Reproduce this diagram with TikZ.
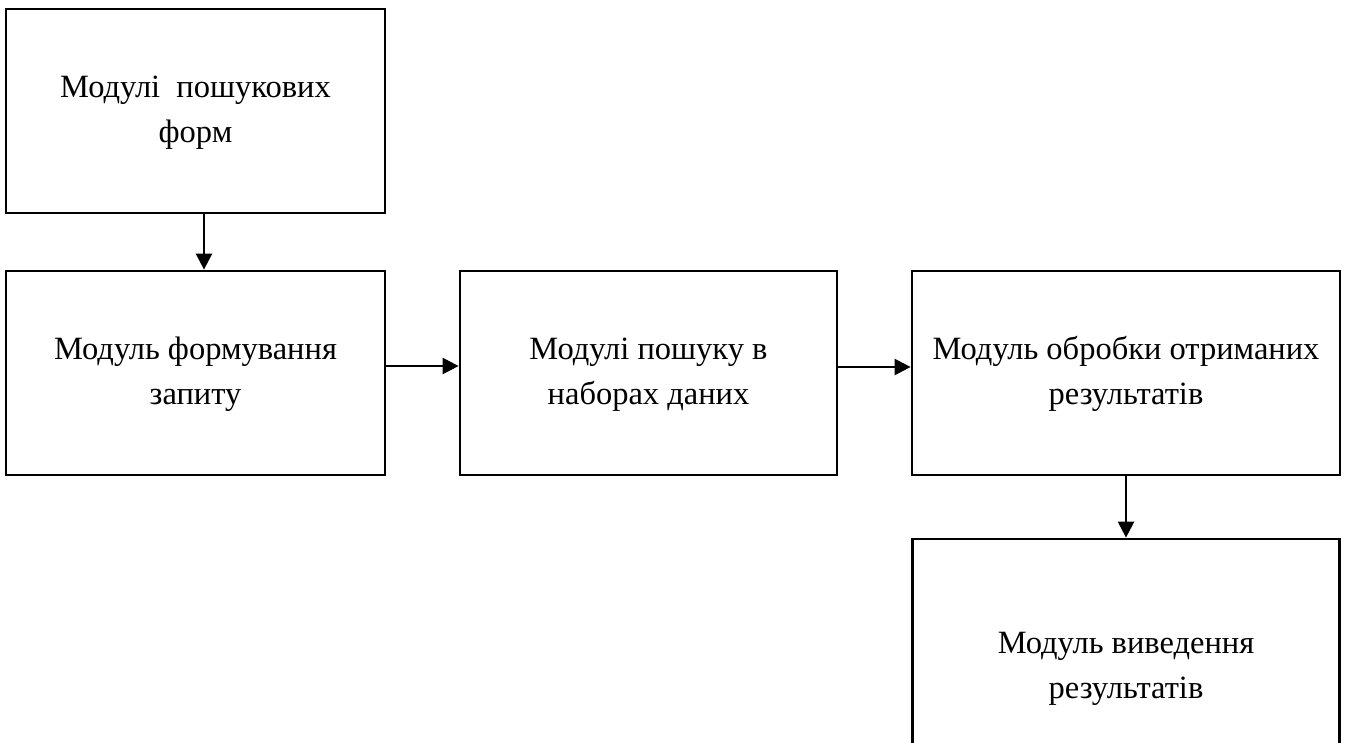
\documentclass[tikz,border=0pt]{standalone}
\usepackage{fontspec}
\setmainfont{Liberation Serif}
\usetikzlibrary{arrows.meta,calc}
\newcommand{\boxfont}{\fontsize{32.5}{45}\selectfont}
\begin{document}
\begin{tikzpicture}[x=1pt,y=-1pt,
  modbox/.style={draw=black,line width=2.8pt,fill=white,inner sep=0pt},
  modtext/.style={inner sep=0pt,font=\boxfont},
  arr/.style={line width=2.4pt,-{Triangle[length=16pt,width=16pt]}}]
\clip (0,0) rectangle (1348,742);
\useasboundingbox (0,0) rectangle (1348,742);
\node[modbox,minimum width=379pt,minimum height=204pt] (b1) at (195.5,111) {};
\node[modtext] (t1) at (195.5,111) {\begin{tabular}{@{}c@{}}Модулі\ \ пошукових\\форм\end{tabular}};
\node[modbox,minimum width=379pt,minimum height=204pt] (b2) at (195.5,373) {};
\node[modtext] (t2) at (195.5,373) {\begin{tabular}{@{}c@{}}Модуль формування\\запиту\end{tabular}};
\node[modbox,minimum width=377pt,minimum height=204pt] (b3) at (648.5,373) {};
\node[modtext] (t3) at (648.5,373) {\begin{tabular}{@{}c@{}}Модулі пошуку в\\наборах даних\end{tabular}};
\node[modbox,minimum width=428pt,minimum height=204pt] (b4) at (1126,373) {};
\node[modtext] (t4) at (1126,373) {\begin{tabular}{@{}c@{}}Модуль обробки отриманих\\результатів\end{tabular}};
\node[modbox,minimum width=427pt,minimum height=256pt] (b5) at (1126,667) {};
\node[modtext] (t5) at (1126,667) {\begin{tabular}{@{}c@{}}Модуль виведення\\результатів\end{tabular}};
\coordinate (x1) at (204,0);
\coordinate (y1) at (0,366);
\coordinate (y2) at (0,367);
\draw[arr] (b1.south -| x1) -- (b2.north -| x1);
\draw[arr] (b2.east |- y1) -- (b3.west |- y1);
\draw[arr] (b3.east |- y2) -- (b4.west |- y2);
\draw[arr] (b4.south) -- (b5.north);
\end{tikzpicture}
\end{document}
